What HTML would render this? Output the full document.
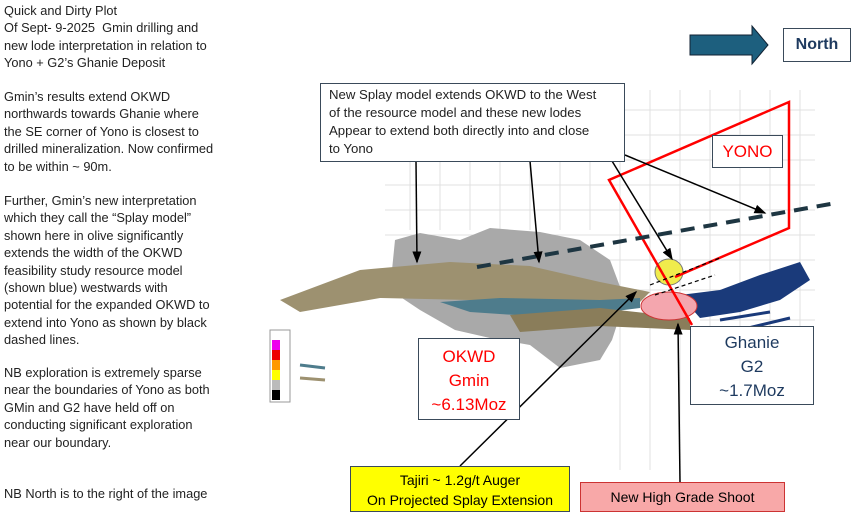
<!DOCTYPE html>
<html><head><meta charset="utf-8"><style>
body{margin:0;width:855px;height:519px;background:#fff;overflow:hidden;position:relative;font-family:"Liberation Sans",sans-serif}
.t{position:absolute;left:4px;font-size:12.8px;line-height:17.4px;color:#222;white-space:nowrap}
.box{position:absolute;border:1px solid #3a4a5a;background:#fff;box-sizing:border-box}
</style></head><body>
<div class="t" style="top:2px">Quick and Dirty Plot<br>Of Sept- 9-2025&nbsp; Gmin drilling and<br>new lode interpretation in relation to<br>Yono + G2’s Ghanie Deposit</div>
<div class="t" style="top:88px">Gmin’s results extend OKWD<br>northwards towards Ghanie where<br>the SE corner of Yono is closest to<br>drilled mineralization. Now confirmed<br>to be within ~ 90m.</div>
<div class="t" style="top:192px">Further, Gmin’s new interpretation<br>which they call the “Splay model”<br>shown here in olive significantly<br>extends the width of the OKWD<br>feasibility study resource model<br>(shown blue) westwards with<br>potential for the expanded OKWD to<br>extend into Yono as shown by black<br>dashed lines.</div>
<div class="t" style="top:364px">NB exploration is extremely sparse<br>near the boundaries of Yono as both<br>GMin and G2 have held off on<br>conducting significant exploration<br>near our boundary.</div>
<div class="t" style="top:485px">NB North is to the right of the image</div>

<svg width="855" height="519" style="position:absolute;left:0;top:0">
<defs><marker id="a" markerWidth="8" markerHeight="8" refX="7" refY="4" orient="auto"><path d="M0,1 L8,4 L0,7z" fill="#000"/></marker></defs>
<g stroke="#e0e0e0" stroke-width="1">
<line x1="385" y1="110" x2="815" y2="110"/><line x1="385" y1="135" x2="815" y2="135"/><line x1="385" y1="160" x2="815" y2="160"/><line x1="385" y1="185" x2="815" y2="185"/><line x1="385" y1="210" x2="815" y2="210"/><line x1="385" y1="235" x2="815" y2="235"/>
<line x1="600" y1="260" x2="815" y2="260"/><line x1="600" y1="290" x2="815" y2="290"/><line x1="700" y1="320" x2="815" y2="320"/>
<line x1="410" y1="90" x2="410" y2="230"/><line x1="440" y1="90" x2="440" y2="230"/><line x1="470" y1="90" x2="470" y2="230"/><line x1="500" y1="90" x2="500" y2="230"/><line x1="530" y1="90" x2="530" y2="230"/><line x1="560" y1="90" x2="560" y2="230"/><line x1="590" y1="90" x2="590" y2="230"/><line x1="620" y1="90" x2="620" y2="470"/><line x1="650" y1="90" x2="650" y2="470"/><line x1="680" y1="90" x2="680" y2="470"/><line x1="710" y1="90" x2="710" y2="330"/><line x1="740" y1="90" x2="740" y2="330"/><line x1="770" y1="90" x2="770" y2="330"/><line x1="800" y1="90" x2="800" y2="330"/>
</g>
<path d="M395,240 L420,233 L460,240 L490,228 L540,232 L580,240 L610,260 L625,300 L612,340 L600,360 L560,368 L530,345 L490,338 L455,330 L420,310 L390,290 Z" fill="#a9a9a9"/>
<path d="M280,300 L360,270 L450,262 L530,266 L600,282 L650,292 L640,302 L560,305 L470,300 L380,298 L300,312 Z" fill="#9d9170"/>
<path d="M440,302 L500,298 L600,300 L640,298 L640,308 L560,318 L470,312 Z" fill="#4e7c8c"/>
<path d="M510,315 L600,308 L690,318 L690,330 L600,326 L520,332 Z" fill="#8a7d5a"/>
<path d="M680,295 L720,290 L760,275 L800,262 L810,280 L780,300 L740,312 L700,318 Z" fill="#1a3a7a"/>
<path d="M720,320 L770,312 M740,330 L790,318" stroke="#1a3a7a" stroke-width="3"/>
<ellipse cx="669" cy="306" rx="28" ry="14" fill="#f4a6ae" stroke="#c33" stroke-width="1"/>
<ellipse cx="669" cy="272" rx="14" ry="13" fill="#f0ec4c" stroke="#777" stroke-width="1"/>
<polyline points="692,325 609,180 789,102 789,228 675,277" fill="none" stroke="#f00" stroke-width="2.5"/>
<line x1="477" y1="267" x2="836" y2="203" stroke="#1e3642" stroke-width="4" stroke-dasharray="14,9"/>
<line x1="650" y1="285" x2="720" y2="258" stroke="#000" stroke-width="1.2" stroke-dasharray="4,3"/>
<line x1="655" y1="295" x2="715" y2="275" stroke="#000" stroke-width="1.2" stroke-dasharray="4,3"/>
<rect x="270" y="330" width="20" height="72" fill="#fff" stroke="#999"/>
<rect x="272" y="340" width="8" height="10" fill="#e0e"/><rect x="272" y="350" width="8" height="10" fill="#e00"/><rect x="272" y="360" width="8" height="10" fill="#f90"/><rect x="272" y="370" width="8" height="10" fill="#ff0"/><rect x="272" y="380" width="8" height="10" fill="#bbb"/><rect x="272" y="390" width="8" height="10" fill="#000"/>
<line x1="300" y1="365" x2="325" y2="368" stroke="#4e7c8c" stroke-width="3"/><line x1="300" y1="378" x2="325" y2="380" stroke="#9d9170" stroke-width="3"/>
<g stroke="#000" stroke-width="1.5" marker-end="url(#a)">
<line x1="416" y1="161" x2="417" y2="262"/>
<line x1="530" y1="161" x2="539" y2="262"/>
<line x1="612" y1="161" x2="672" y2="259"/>
<line x1="625" y1="155" x2="765" y2="213"/>
<line x1="460" y1="466" x2="636" y2="292"/>
<line x1="680" y1="482" x2="678" y2="324"/>
</g>
<path d="M690,35 L752,35 L752,26 L768,45 L752,64 L752,55 L690,55 Z" fill="#1d5f7e" stroke="#123" stroke-width="1"/>
</svg>

<div class="box" style="left:783px;top:28px;width:68px;height:34px;font-weight:bold;font-size:16px;color:#1e3a5f;text-align:center;line-height:32px">North</div>
<div class="box" style="left:320px;top:83px;width:305px;height:79px;padding:2px 8px;font-size:13.2px;line-height:18px;color:#222;white-space:nowrap">New Splay model extends OKWD to the West<br>of the resource model and these new lodes<br>Appear to extend both directly into and close<br>to Yono</div>
<div class="box" style="left:712px;top:135px;width:71px;height:33px;color:#f00;font-size:17px;text-align:center;line-height:32px">YONO</div>
<div class="box" style="left:418px;top:338px;width:102px;height:82px;color:#f00;font-size:17px;text-align:center;line-height:24px;padding-top:6px">OKWD<br>Gmin<br>~6.13Moz</div>
<div class="box" style="left:690px;top:326px;width:124px;height:79px;color:#1e3a5f;font-size:17px;text-align:center;line-height:24px;padding-top:4px">Ghanie<br>G2<br>~1.7Moz</div>
<div class="box" style="left:350px;top:466px;width:220px;height:46px;background:#ffff00;font-size:14px;text-align:center;line-height:20px;padding-top:3px">Tajiri ~ 1.2g/t Auger<br>On Projected Splay Extension</div>
<div class="box" style="left:580px;top:482px;width:205px;height:30px;background:#f8a8a8;border-color:#c33;font-size:14px;text-align:center;line-height:28px">New High Grade Shoot</div>
</body></html>
